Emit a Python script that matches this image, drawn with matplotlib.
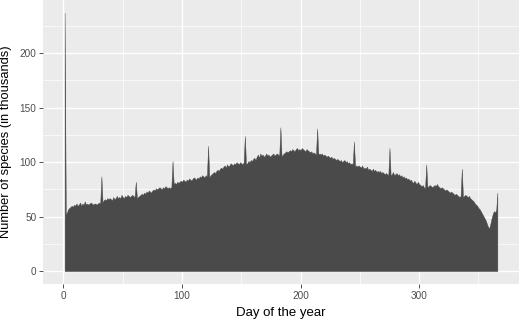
import matplotlib
matplotlib.use('Agg')
import matplotlib.pyplot as plt
import numpy as np

# Daily species counts (thousands), one value per day of a leap year
jan = [237, 52, 54, 57, 58, 59, 60, 59, 61, 60, 62, 60, 61, 63, 60, 62, 61, 64, 61, 62,
       61, 62, 63, 62, 61, 62, 62, 61, 62, 63, 62]
feb = [87, 63, 65, 66, 65, 67, 66, 67, 66, 65, 68, 66, 67, 69, 67, 68, 67, 70, 68, 67,
       69, 68, 70, 69, 68, 69, 70, 69, 68]
mar = [82, 67, 68, 69, 70, 71, 70, 72, 71, 73, 72, 74, 73, 72, 74, 75, 74, 76, 75, 76,
       77, 76, 75, 77, 76, 78, 77, 76, 77, 76, 77]
apr = [101, 80, 81, 80, 82, 81, 82, 83, 82, 84, 83, 82, 84, 83, 85, 84, 83, 85, 86, 85,
       84, 86, 85, 87, 86, 88, 87, 86, 88, 87]
may = [115, 86, 88, 89, 90, 91, 90, 92, 93, 92, 94, 95, 94, 96, 97, 95, 98, 96, 97, 99,
       98, 97, 99, 98, 100, 99, 98, 100, 99, 98, 100]
jun = [124, 98, 99, 101, 100, 102, 101, 103, 104, 102, 105, 107, 104, 108, 106, 107, 105, 106, 108, 106,
       107, 105, 106, 107, 108, 106, 107, 108, 107, 106]
jul = [132, 105, 107, 108, 109, 110, 109, 110, 111, 110, 112, 111, 110, 112, 113, 111, 112, 111, 113, 112,
       111, 110, 112, 111, 110, 109, 110, 108, 109, 108, 107]
aug = [131, 107, 108, 107, 108, 106, 107, 106, 105, 106, 105, 104, 105, 103, 104, 103, 102, 103, 102, 101,
       102, 100, 101, 102, 100, 101, 99, 100, 98, 99, 98]
sep = [119, 96, 97, 96, 97, 96, 95, 97, 94, 95, 94, 96, 93, 94, 93, 92, 94, 92, 93, 91,
       92, 91, 92, 90, 91, 90, 89, 90, 89, 88]
oct_ = [113, 88, 89, 91, 88, 89, 90, 88, 89, 87, 88, 86, 87, 85, 86, 84, 85, 83, 84, 82,
        81, 83, 81, 80, 82, 80, 79, 78, 79, 77, 76]
nov = [98, 77, 78, 79, 78, 77, 78, 79, 78, 80, 78, 77, 76, 77, 76, 75, 74, 75, 74, 73,
       72, 73, 72, 71, 70, 71, 70, 69, 68, 69]
dec = [94, 68, 69, 70, 69, 68, 69, 67, 66, 65, 64, 62, 61, 60, 58, 57, 55, 53, 51, 49,
       47, 44, 41, 39, 43, 48, 52, 55, 54, 56, 72]

species = np.array(jan + feb + mar + apr + may + jun + jul + aug + sep + oct_ + nov + dec)
days = np.arange(1, len(species) + 1)

x_ticks = [0, 100, 200, 300]
y_ticks = [0, 50, 100, 150, 200]

plt.rcParams['font.family'] = ['Liberation Sans', 'DejaVu Sans']

fig = plt.figure(figsize=(5.2, 3.2), dpi=100)
ax = fig.add_axes([43 / 520, 1 - 284 / 320, 476 / 520, 284 / 320])
ax.set_facecolor('#EBEBEB')

ax.fill_between(days, species, 0, color='#4a4a4a', linewidth=0.3,
                edgecolor='#4a4a4a', zorder=3)

xr = days.max() - days.min()
ax.set_xlim(days.min() - 0.05 * xr, days.max() + 0.05 * xr)
yr = species.max()
ax.set_ylim(-0.05 * yr, species.max() + 0.05 * yr)

ax.set_xticks(x_ticks)
ax.set_yticks(y_ticks)
ax.set_xticks([50, 150, 250, 350], minor=True)
ax.set_yticks([25, 75, 125, 175, 225], minor=True)
ax.grid(which='major', color='white', linewidth=1.0, zorder=1)
ax.grid(which='minor', color='white', linewidth=0.5, zorder=1)
ax.set_axisbelow(True)
for s in ax.spines.values():
    s.set_visible(False)

ax.tick_params(which='major', length=2.8, width=0.6, color='#333333',
               labelsize=7.2, labelcolor='#4D4D4D', pad=2)
ax.tick_params(which='minor', length=0)

# axis titles placed in figure pixels to match the reference
fig.text(281 / 520, 1 - 316 / 320, 'Day of the year', fontsize=9.5,
         ha='center', va='baseline')
fig.text(6.5 / 520, 1 - 142 / 320, 'Number of species (in thousands)', fontsize=9.3,
         ha='center', va='center', rotation=90)

fig.savefig('out.png', dpi=100)
